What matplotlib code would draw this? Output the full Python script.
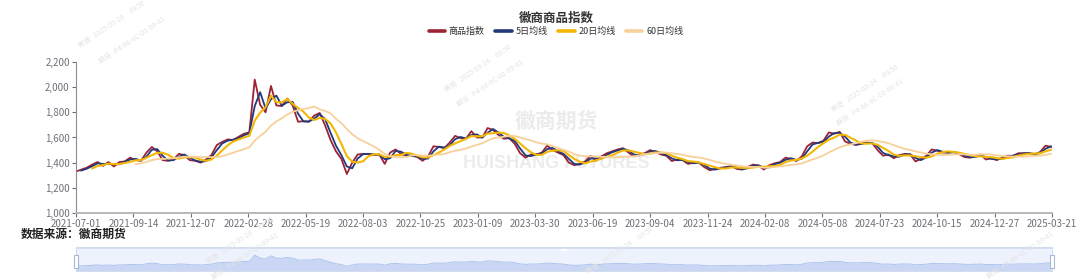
import numpy as np
import pandas as pd
import matplotlib.pyplot as plt
from matplotlib.lines import Line2D
from matplotlib.patches import Rectangle

plt.rcParams['font.family'] = ['Noto Sans CJK SC', 'DejaVu Sans']

# index value read every 5 trading days, 2021-07-01 .. 2025-03-21
index_vals = [
    1330, 1345, 1360, 1385, 1405, 1375, 1405, 1370, 1405, 1410,
    1440, 1420, 1415, 1480, 1525, 1490, 1420, 1415, 1425, 1470,
    1460, 1420, 1415, 1400, 1425, 1460, 1540, 1565, 1585, 1580,
    1605, 1630, 1640, 2060, 1860, 1800, 2010, 1855, 1850, 1910,
    1855, 1725, 1730, 1725, 1775, 1795, 1695, 1580, 1490, 1430,
    1310, 1400, 1465, 1470, 1470, 1460, 1465, 1390, 1480, 1505,
    1470, 1455, 1455, 1445, 1415, 1450, 1530, 1525, 1515, 1560,
    1613, 1595, 1590, 1650, 1600, 1600, 1675, 1660, 1620, 1590,
    1595, 1550, 1475, 1440, 1465, 1465, 1480, 1535, 1500, 1480,
    1460, 1400, 1380, 1390, 1410, 1455, 1415, 1450, 1475, 1490,
    1505, 1515, 1480, 1450, 1465, 1475, 1500, 1485, 1465, 1455,
    1413, 1425, 1420, 1390, 1400, 1400, 1365, 1340, 1350, 1360,
    1365, 1373, 1350, 1345, 1365, 1385, 1375, 1345, 1380, 1395,
    1405, 1440, 1430, 1413, 1450, 1530, 1560, 1555, 1575, 1640,
    1630, 1645, 1568, 1550, 1540, 1555, 1560, 1555, 1500, 1455,
    1465, 1435, 1460, 1470, 1465, 1410, 1430, 1455, 1505, 1495,
    1480, 1480, 1485, 1470, 1445, 1440, 1450, 1465, 1425, 1435,
    1420, 1440, 1455, 1455, 1475, 1475, 1475, 1465, 1485, 1535,
    1525,
]
sample_step = 5        # trading days between readings
total_days = 901

x_labels = ['2021-07-01', '2021-09-14', '2021-12-07', '2022-02-28', '2022-05-19',
            '2022-08-03', '2022-10-25', '2023-01-09', '2023-03-30', '2023-06-19',
            '2023-09-04', '2023-11-24', '2024-02-08', '2024-05-08', '2024-07-23',
            '2024-10-15', '2024-12-27', '2025-03-21']
label_step = 53

series_names = ['商品指数', '5日均线', '20日均线', '60日均线']
series_colors = ['#9b2335', '#22397a', '#f2b705', '#f7d09a']

s = pd.Series(index_vals, dtype=float)
days = np.arange(len(s)) * sample_step
ma5 = s.rolling(2).mean()
ma20 = s.rolling(4).mean()
ma60 = s.rolling(12).mean()

W, H = 1080, 280
fig = plt.figure(figsize=(W / 100, H / 100), dpi=100)
ax = fig.add_axes([76 / W, 1 - 213 / H, 976 / W, 151 / H])

for y, vals, c, lw in [(0, s, series_colors[0], 1.3), (1, ma5, series_colors[1], 1.3),
                       (2, ma20, series_colors[2], 1.5), (3, ma60, series_colors[3], 1.3)]:
    ax.plot(days, vals, color=c, lw=lw, zorder=2 + y * 0.1)

ax.set_xlim(0, total_days)
ax.set_ylim(1000, 2200)
yt = list(range(1000, 2201, 200))
ax.set_yticks(yt)
ax.set_yticklabels([f'{v:,}' for v in yt])
ax.set_xticks(np.arange(len(x_labels)) * label_step)
ax.set_xticklabels(x_labels)
ax.tick_params(labelsize=7, colors='#6e7079', length=3, pad=1.5)
for sp in ['top', 'right']:
    ax.spines[sp].set_visible(False)
ax.spines['left'].set_color('#8a8d96')
ax.spines['left'].set_linewidth(0.8)
ax.spines['bottom'].set_color('#b8b8b8')
ax.spines['bottom'].set_linewidth(1.4)

# watermarks
ax.text(556 / W, 1 - 121 / H, '徽商期货', transform=fig.transFigure, fontsize=15,
        fontweight='bold', color='#ebebeb', ha='center', va='center', zorder=0.5)
ax.text(556 / W, 1 - 164 / H, 'HUISHANG FUTURES', transform=fig.transFigure,
        fontsize=13, fontweight='bold', color='#ececec', ha='center', va='center',
        family='Liberation Sans', zorder=0.5)
marks = [(112, 24), (132, 40), (478, 68), (490, 83), (865, 88), (870, 102),
         (240, 240), (245, 256), (620, 250), (1020, 255)]
for i, (mx, my) in enumerate(marks):
    txt = '徽商   2025-03-24     09:56' if i % 2 == 0 else '期货   P4-68-8C-02-89-41'
    fig.text(mx / W, 1 - my / H, txt, fontsize=5, color='#e4e4e4', rotation=34,
             ha='center', va='center', zorder=0)

# title and legend
fig.text(556 / W, 1 - 18 / H, '徽商商品指数', ha='center', va='center', fontsize=9,
         fontweight='bold', color='#333333')
handles = [Line2D([], [], color=c, lw=2.6, solid_capstyle='round') for c in series_colors]
fig.legend(handles, series_names, loc='center', bbox_to_anchor=(556 / W, 1 - 31.5 / H),
           ncol=4, frameon=False, fontsize=6.5, handlelength=1.8, handletextpad=0.4,
           columnspacing=1.2, labelcolor='#333333')

fig.text(21 / W, 1 - 234 / H, '数据来源：徽商期货', fontsize=8.5, fontweight='bold',
         color='#222222', va='center', ha='left')

# data zoom slider
sax = fig.add_axes([76 / W, 1 - 271 / H, 976 / W, 24 / H])
sax.set_facecolor('#edf2fc')
sax.fill_between(days, 1000, s, color='#c9d7f4', lw=0)
sax.plot(days, s, color='#aec3ee', lw=0.7)
sax.axhspan(2450, 2600, color='#d6e0f4', lw=0)
sax.set_xlim(0, total_days)
sax.set_ylim(1000, 2600)
sax.set_xticks([])
sax.set_yticks([])
for sp in sax.spines.values():
    sp.set_color('#d3dcee')
    sp.set_linewidth(0.8)
for hx in (74, 1050):
    fig.add_artist(Rectangle((hx / W, 1 - 268 / H), 4 / W, 13 / H, transform=fig.transFigure,
                             fc='white', ec='#a7b7d6', lw=0.8))
fig.add_artist(Rectangle((561 / W, 1 - 250.5 / H), 6 / W, 1.2 / H, transform=fig.transFigure,
                         fc='white', ec='none'))

fig.savefig('out.png', dpi=100)
